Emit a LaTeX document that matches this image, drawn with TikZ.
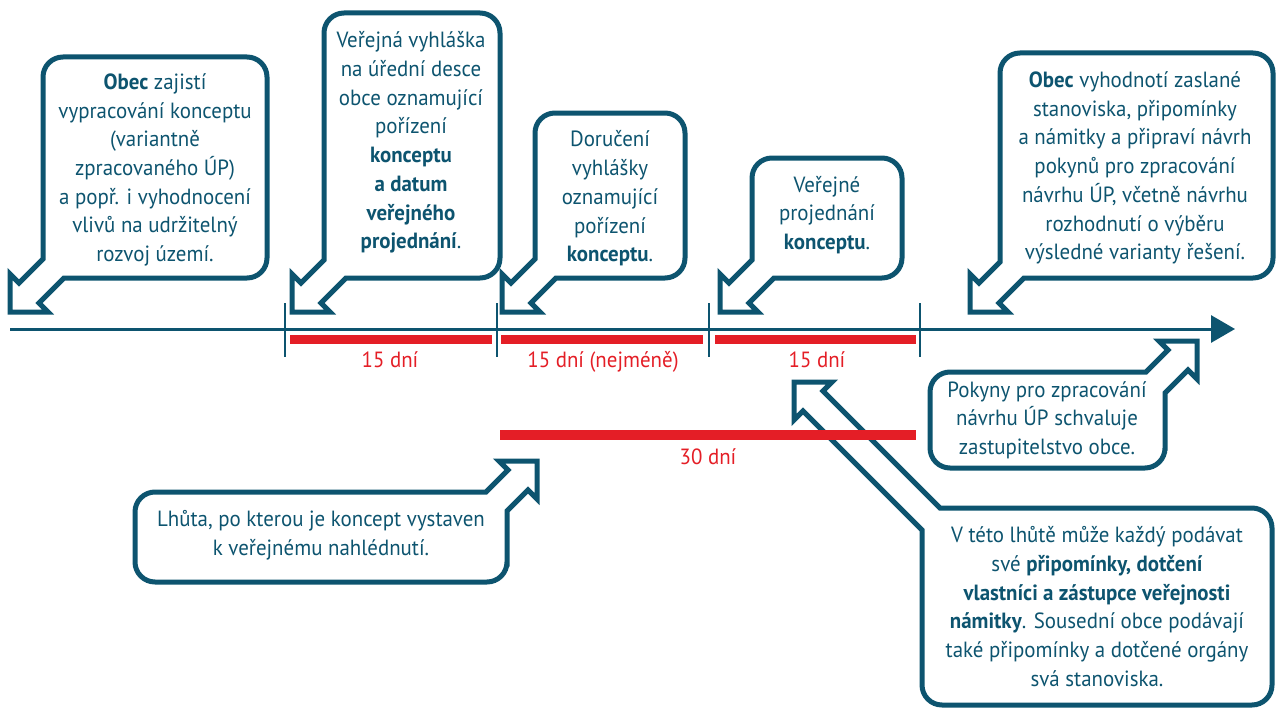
\documentclass[tikz,border=0pt]{standalone}
\usepackage{fontspec}
\setmainfont{PT Sans}[FakeStretch=0.95]
\usetikzlibrary{arrows.meta}
\definecolor{cteal}{RGB}{13,84,111}
\definecolor{cred}{RGB}{228,30,38}
\newcommand\calloutDL[6]{% L T R B tx ty : pointer down-left
  \pgfmathsetmacro\cOne{#5+#6-20}\pgfmathsetmacro\cTwo{#5+#6+20}%
  \pgfmathsetmacro\pLy{\cOne-#1}\pgfmathsetmacro\pBx{\cTwo-#4}%
  \pgfmathsetmacro\mY{(#2+\pLy)/2}\pgfmathsetmacro\mX{(#3+\pBx)/2}%
  \draw[callout, rounded corners=20pt] (#1,\mY) -- (#1,#2) -- (#3,#2) -- (#3,#4) -- (\mX,#4) [sharp corners]
    -- (\pBx,#4) -- (#5+29,#6-9) -- (#5+38,#6) -- (#5,#6) -- (#5,#6-38) -- (#5+9,#6-29) -- (#1,\pLy) -- cycle;}
\newcommand\calloutUR[6]{% pointer up-right
  \pgfmathsetmacro\cOne{#5+#6-20}\pgfmathsetmacro\cTwo{#5+#6+20}%
  \pgfmathsetmacro\pTx{\cOne-#2}\pgfmathsetmacro\pRy{\cTwo-#3}%
  \pgfmathsetmacro\mY{(#2+#4)/2}\pgfmathsetmacro\mYb{(\pRy+#4)/2}\pgfmathsetmacro\mX{(#1+\pTx)/2}%
  \draw[callout, rounded corners=20pt] (#1,\mY) -- (#1,#4) -- (#3,#4) -- (#3,\mYb) [sharp corners]
    -- (#3,\pRy) -- (#5-9,#6+29) -- (#5,#6+38) -- (#5,#6) -- (#5-38,#6) -- (#5-29,#6+9) -- (\pTx,#2) -- (\mX,#2)
    [rounded corners=20pt] -- (#1,#2) -- cycle;}
\newcommand\calloutUL[6]{% pointer up-left
  \pgfmathsetmacro\cUp{#5-#6+20}\pgfmathsetmacro\cLo{#5-#6-20}%
  \pgfmathsetmacro\pTx{#2+\cUp}\pgfmathsetmacro\pLy{#1-\cLo}%
  \pgfmathsetmacro\mX{(\pTx+#3)/2}\pgfmathsetmacro\mY{(\pLy+#4)/2}%
  \draw[callout, rounded corners=20pt] (\mX,#2) -- (#3,#2) -- (#3,#4) -- (#1,#4) -- (#1,\mY) [sharp corners]
    -- (#1,\pLy) -- (#5+9,#6+29) -- (#5,#6+38) -- (#5,#6) -- (#5+38,#6) -- (#5+29,#6+9) -- (\pTx,#2) -- cycle;}
\begin{document}
\begin{tikzpicture}[x=1pt,y=-1pt,
  callout/.style={draw=cteal, line width=5pt, line join=miter},
  txt/.style={text=cteal, align=center, inner sep=0pt, font=\fontsize{22}{28.7}\selectfont},
  lbl/.style={text=cred, inner sep=0pt, anchor=base, font=\fontsize{22}{25}\selectfont},
  redbar/.style={draw=cred, line width=9.5pt},
  tick/.style={draw=cteal, line width=2.5pt},
  axis/.style={draw=cteal, line width=3pt, -{Triangle[length=24pt,width=27pt]}}]
\useasboundingbox (0,0) rectangle (1279,709);
% callouts
\calloutDL{43}{57}{267}{278}{10}{312}
\calloutDL{324}{13}{500}{278}{292}{312}
\calloutDL{535}{113}{685}{278}{502}{312}
\calloutDL{752}{158}{902}{278}{720}{312}
\calloutDL{1000}{53}{1273}{278}{970}{312}
\calloutUR{930}{372}{1165}{468}{1197}{341}
\calloutUR{135}{492}{507}{582}{537}{461}
\calloutUL{922}{508}{1272}{705}{794}{382}
% texts
\node[txt] (t1) at (155,170) {\textbf{Obec} zajistí\\vypracování konceptu\\(variantně\\zpracovaného ÚP)\\a popř. i vyhodnocení\\vlivů na udržitelný\\rozvoj území.};
\node[txt] (t2) at (411,142.5) {Veřejná vyhláška\\na úřední desce\\obce oznamující\\pořízení\\\textbf{konceptu}\\\textbf{a datum}\\\textbf{veřejného}\\\textbf{projednání}.};
\node[txt] (t3) at (610,198.5) {Doručení\\vyhlášky\\oznamující\\pořízení\\\textbf{konceptu}.};
\node[txt] (t4) at (827,215) {Veřejné\\projednání\\\textbf{konceptu}.};
\node[txt] (t5) at (1135,168) {\textbf{Obec} vyhodnotí zaslané\\stanoviska, připomínky\\a námitky a připraví návrh\\pokynů pro zpracování\\návrhu ÚP, včetně návrhu\\rozhodnutí o výběru\\výsledné varianty řešení.};
\node[txt] (t6) at (1047,420) {Pokyny pro zpracování\\návrhu ÚP schvaluje\\zastupitelstvo obce.};
\node[txt] (t7) at (321,535) {Lhůta, po kterou je koncept vystaven\\k veřejnému nahlédnutí.};
\node[txt] (t8) at (1097,606.5) {V této lhůtě může každý podávat\\své \textbf{připomínky, dotčení}\\\textbf{vlastníci a zástupce veřejnosti}\\\textbf{námitky}. Sousední obce podávají\\také připomínky a dotčené orgány\\svá stanoviska.};
% axis
\coordinate (axL) at (10,329);
\coordinate (axR) at (1235,329);
\draw[axis] (axL) -- (axR);
\foreach \x/\n in {285/a,497/b,709/c,920/d}{
  \coordinate (tk\n1) at (\x,303); \coordinate (tk\n2) at (\x,357);
  \draw[tick] (tk\n1) -- (tk\n2);}
% red bars
\coordinate (r1a) at (290,339.5); \coordinate (r1b) at (492,339.5);
\coordinate (r2a) at (501,339.5); \coordinate (r2b) at (703,339.5);
\coordinate (r3a) at (715,339.5); \coordinate (r3b) at (916,339.5);
\coordinate (r4a) at (500,435); \coordinate (r4b) at (916,435);
\draw[redbar] (r1a) -- (r1b);
\draw[redbar] (r2a) -- (r2b);
\draw[redbar] (r3a) -- (r3b);
\draw[redbar] (r4a) -- (r4b);
\node[lbl] (l1) at (390,367) {15 dní};
\node[lbl] (l2) at (603,367) {15 dní (nejméně)};
\node[lbl] (l3) at (817,367) {15 dní};
\node[lbl] (l4) at (708,464) {30 dní};
\end{tikzpicture}
\end{document}
